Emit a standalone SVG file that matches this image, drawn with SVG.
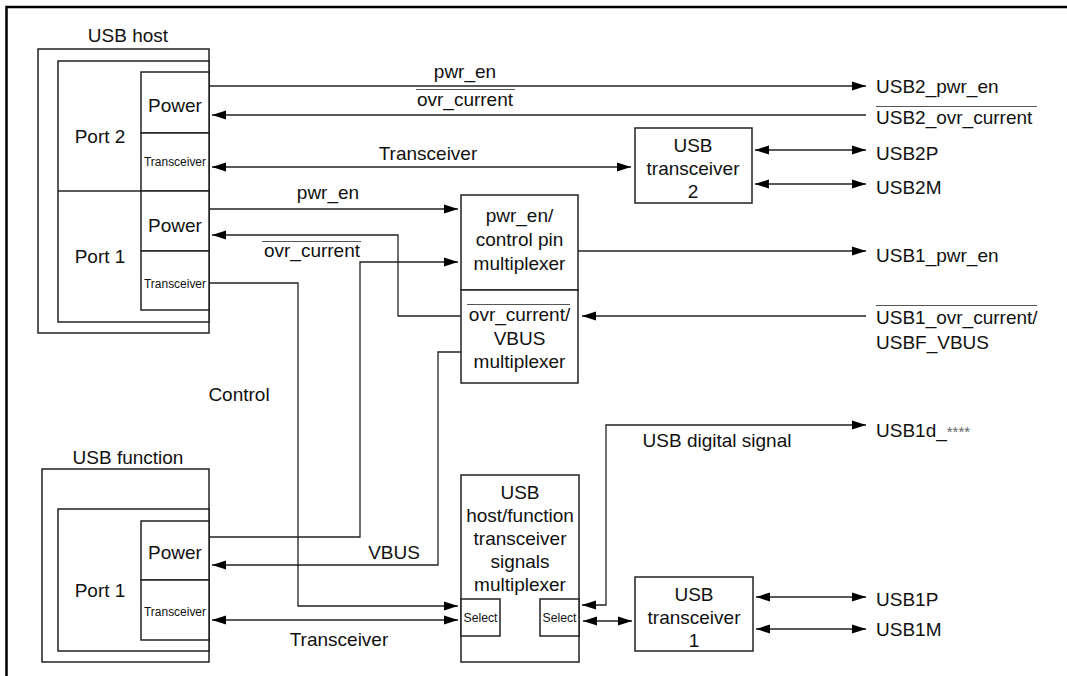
<svg xmlns="http://www.w3.org/2000/svg" width="1067" height="676" viewBox="0 0 1067 676">
<defs>
<marker id="ah" markerUnits="userSpaceOnUse" markerWidth="16" markerHeight="12" viewBox="0 0 16 12" refX="15" refY="6" orient="auto-start-reverse">
<path d="M1,1.5 L15,6 L1,10.5 Z" fill="#000"/>
</marker>
</defs>
<style>
text{font-family:"Liberation Sans",Arial,sans-serif;font-size:19px;fill:#111}
.c{text-anchor:middle}
.s{font-size:12.5px}
.box{fill:#fff;stroke:#222;stroke-width:1.5}
.ln{fill:none;stroke:#222;stroke-width:1.3}
.ov{stroke:#555;stroke-width:1}
.frame{fill:none;stroke:#000;stroke-width:2.5}
</style>
<rect width="1067" height="676" fill="#fff"/>
<path class="frame" d="M6.5,676 V7 H1067"/>

<g id="connectors">
<path class="ln" d="M209,86 H866" marker-end="url(#ah)"/>
<path class="ln" d="M866,115 H212" marker-end="url(#ah)"/>
<path class="ln" d="M212,167 H631" marker-start="url(#ah)" marker-end="url(#ah)"/>
<path class="ln" d="M755,150 H866" marker-start="url(#ah)" marker-end="url(#ah)"/>
<path class="ln" d="M755,184 H866" marker-start="url(#ah)" marker-end="url(#ah)"/>
<path class="ln" d="M209,209 H458" marker-end="url(#ah)"/>
<path class="ln" d="M461,316 H398 V235 H212" marker-end="url(#ah)"/>
<path class="ln" d="M209,537 H360 V262 H458" marker-end="url(#ah)"/>
<path class="ln" d="M461,352 H438 V565 H212" marker-end="url(#ah)"/>
<path class="ln" d="M209,283 H298 V606 H458" marker-end="url(#ah)"/>
<path class="ln" d="M212,620 H458" marker-start="url(#ah)" marker-end="url(#ah)"/>
<path class="ln" d="M578,251 H866" marker-end="url(#ah)"/>
<path class="ln" d="M866,316 H582" marker-end="url(#ah)"/>
<path class="ln" d="M582,605 H606 V425 H866" marker-start="url(#ah)" marker-end="url(#ah)"/>
<path class="ln" d="M583,621 H632" marker-start="url(#ah)" marker-end="url(#ah)"/>
<path class="ln" d="M756,597 H866" marker-start="url(#ah)" marker-end="url(#ah)"/>
<path class="ln" d="M756,629 H866" marker-start="url(#ah)" marker-end="url(#ah)"/>
</g>

<g id="labels">
<text class="c" x="465" y="78">pwr_en</text>
<line class="ov" x1="416" y1="89.5" x2="515" y2="89.5"/>
<text class="c" x="465" y="106">ovr_current</text>
<text class="c" x="428" y="160">Transceiver</text>
<text class="c" x="328" y="199">pwr_en</text>
<line class="ov" x1="262" y1="241.5" x2="361" y2="241.5"/>
<text class="c" x="312" y="257">ovr_current</text>
<text class="c" x="239" y="401">Control</text>
<text class="c" x="394" y="559">VBUS</text>
<text class="c" x="339" y="646">Transceiver</text>
<text class="c" x="717" y="447">USB digital signal</text>
<text x="876" y="93">USB2_pwr_en</text>
<line class="ov" x1="876" y1="106.5" x2="1037" y2="106.5"/>
<text x="876" y="124">USB2_ovr_current</text>
<text x="876" y="160">USB2P</text>
<text x="876" y="194">USB2M</text>
<text x="876" y="262">USB1_pwr_en</text>
<line class="ov" x1="876" y1="305.5" x2="1037" y2="305.5"/>
<text x="876" y="324">USB1_ovr_current/</text>
<text x="876" y="349">USBF_VBUS</text>
<text x="876" y="437">USB1d_<tspan fill="#666" font-size="15">****</tspan></text>
<text x="876" y="606">USB1P</text>
<text x="876" y="636">USB1M</text>
</g>

<g id="usb-host">
<text class="c" x="128" y="42">USB host</text>
<rect class="box" x="38" y="49" width="171" height="284"/>
<rect class="box" x="58" y="61" width="151" height="261"/>
<line class="ln" x1="58" y1="191" x2="141" y2="191" style="stroke-width:1.5"/>
<text class="c" x="100" y="143">Port 2</text>
<text class="c" x="100" y="263">Port 1</text>
<g id="host-p2-power"><rect class="box" x="141" y="72" width="68" height="61"/><text class="c" x="175" y="112">Power</text></g>
<g id="host-p2-trx"><rect class="box" x="141" y="133" width="68" height="58"/><text class="c s" x="175" y="166" textLength="62" lengthAdjust="spacingAndGlyphs">Transceiver</text></g>
<g id="host-p1-power"><rect class="box" x="141" y="191" width="68" height="60"/><text class="c" x="175" y="232">Power</text></g>
<g id="host-p1-trx"><rect class="box" x="141" y="251" width="68" height="59"/><text class="c s" x="175" y="288" textLength="62" lengthAdjust="spacingAndGlyphs">Transceiver</text></g>
</g>

<g id="usb-function">
<text class="c" x="128" y="464">USB function</text>
<rect class="box" x="42" y="469" width="167" height="193"/>
<rect class="box" x="58" y="509" width="151" height="142"/>
<text class="c" x="100" y="597">Port 1</text>
<g id="func-power"><rect class="box" x="141" y="521" width="68" height="59"/><text class="c" x="175" y="559">Power</text></g>
<g id="func-trx"><rect class="box" x="141" y="580" width="68" height="60"/><text class="c s" x="175" y="616" textLength="62" lengthAdjust="spacingAndGlyphs">Transceiver</text></g>
</g>

<g id="usb-transceiver-2">
<rect class="box" x="635" y="128" width="117" height="75"/>
<text class="c" x="693" y="152">USB</text>
<text class="c" x="693" y="175">transceiver</text>
<text class="c" x="693" y="198">2</text>
</g>

<g id="pwr-mux">
<rect class="box" x="461" y="195" width="117" height="95"/>
<text class="c" x="519.5" y="222">pwr_en/</text>
<text class="c" x="519.5" y="246">control pin</text>
<text class="c" x="519.5" y="270">multiplexer</text>
</g>

<g id="ovr-mux">
<rect class="box" x="461" y="290" width="117" height="93"/>
<line class="ov" x1="467" y1="304.5" x2="570" y2="304.5"/>
<text class="c" x="519.5" y="321">ovr_current/</text>
<text class="c" x="519.5" y="345">VBUS</text>
<text class="c" x="519.5" y="368">multiplexer</text>
</g>

<g id="trx-mux">
<rect class="box" x="461" y="475" width="118" height="187"/>
<text class="c" x="520" y="499">USB</text>
<text class="c" x="520" y="522">host/function</text>
<text class="c" x="520" y="545">transceiver</text>
<text class="c" x="520" y="568">signals</text>
<text class="c" x="520" y="591">multiplexer</text>
<g id="select-left"><rect class="box" x="461" y="599" width="39" height="37"/><text class="c s" x="480.5" y="622" textLength="34" lengthAdjust="spacingAndGlyphs">Select</text></g>
<g id="select-right"><rect class="box" x="540" y="599" width="39" height="37"/><text class="c s" x="559.5" y="622" textLength="34" lengthAdjust="spacingAndGlyphs">Select</text></g>
</g>

<g id="usb-transceiver-1">
<rect class="box" x="635" y="577" width="118" height="74"/>
<text class="c" x="694" y="601">USB</text>
<text class="c" x="694" y="624">transceiver</text>
<text class="c" x="694" y="647">1</text>
</g>
</svg>
